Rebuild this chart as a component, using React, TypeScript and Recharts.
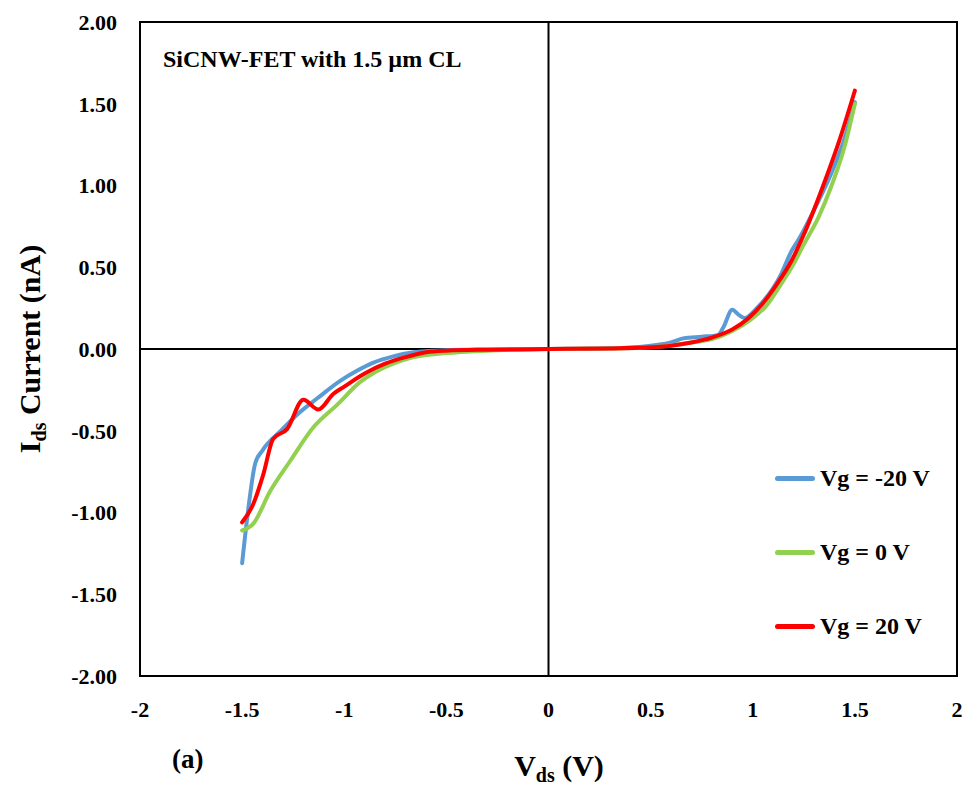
import React from "react";
import {
  LineChart,
  Line,
  XAxis,
  YAxis,
  ReferenceLine,
  ReferenceArea,
} from "recharts";

// V_ds (V) sample points and I_ds (nA) values per gate voltage
const vgNeg20V = [-1.5, -1.47, -1.436, -1.4, -1.31, -1.23, -1.13, -1.02, -0.94, -0.86, -0.76, -0.66, -0.5, -0.3, 0, 0.3, 0.5, 0.6, 0.66, 0.75, 0.83, 0.855, 0.9, 0.93, 0.96, 1.02, 1.14, 1.19, 1.22, 1.3, 1.4, 1.45, 1.5];
const vgNeg20I = [-1.31, -0.98, -0.7, -0.62, -0.5, -0.4, -0.3, -0.195, -0.135, -0.085, -0.045, -0.02, -0.008, -0.003, 0, 0.004, 0.02, 0.04, 0.065, 0.075, 0.085, 0.13, 0.24, 0.21, 0.19, 0.25, 0.46, 0.6, 0.66, 0.85, 1.12, 1.29, 1.51];

const vg0V = [-1.5, -1.446, -1.363, -1.265, -1.152, -1.034, -0.92, -0.86, -0.76, -0.66, -0.5, -0.3, 0, 0.3, 0.5, 0.7, 0.8, 0.9, 0.99, 1.07, 1.14, 1.2, 1.25, 1.32, 1.38, 1.45, 1.5];
const vg0I = [-1.11, -1.07, -0.87, -0.685, -0.48, -0.34, -0.2, -0.15, -0.09, -0.05, -0.025, -0.01, 0, 0.003, 0.01, 0.04, 0.06, 0.11, 0.18, 0.27, 0.4, 0.52, 0.64, 0.8, 0.98, 1.24, 1.5];

const vg20V = [-1.5, -1.446, -1.397, -1.348, -1.28, -1.2, -1.127, -1.054, -1.0, -0.9, -0.8, -0.7, -0.6, -0.5, -0.3, 0, 0.3, 0.5, 0.6, 0.7, 0.8, 0.9, 0.98, 1.05, 1.12, 1.19, 1.25, 1.33, 1.42, 1.5];
const vg20I = [-1.06, -0.95, -0.77, -0.55, -0.49, -0.31, -0.37, -0.275, -0.23, -0.15, -0.09, -0.05, -0.02, -0.01, -0.004, 0, 0.003, 0.01, 0.02, 0.04, 0.07, 0.12, 0.19, 0.28, 0.4, 0.54, 0.7, 0.95, 1.26, 1.58];

const xTicks = [-2, -1.5, -1, -0.5, 0, 0.5, 1, 1.5, 2];
const yTicks = [-2, -1.5, -1, -0.5, 0, 0.5, 1, 1.5, 2];

const seriesNames = ["Vg = -20 V", "Vg = 0 V", "Vg = 20 V"];
const seriesColors = ["#5B9BD5", "#92D050", "#FF0000"];

const toPts = (vs: number[], is: number[]) => vs.map((v, k) => ({ v, i: is[k] }));

const FONT = "'Liberation Serif', 'Times New Roman', serif";

export default function App() {
  const series = [toPts(vgNeg20V, vgNeg20I), toPts(vg0V, vg0I), toPts(vg20V, vg20I)];
  return (
    <div style={{ position: "absolute", left: 0, top: 0, width: 965, height: 785, background: "#fff" }}>
      <LineChart width={965} height={785} margin={{ top: 22, left: 80, right: 8, bottom: 79 }}>
        <XAxis
          type="number"
          dataKey="v"
          domain={[-2, 2]}
          ticks={xTicks}
          allowDataOverflow
          axisLine={false}
          tickLine={false}
          tickMargin={19}
          height={30}
          tick={{ fontFamily: FONT, fontWeight: "bold", fontSize: 22, fill: "#000" }}
          tickFormatter={(v: number) => String(v)}
          label={{
            content: () => (
              <text x={559} y={776} textAnchor="middle" fontFamily={FONT} fontWeight="bold" fontSize={30} fill="#000">
                V<tspan fontSize={20} dy={6}>ds</tspan>
                <tspan dy={-6}> (V)</tspan>
              </text>
            ),
          }}
        />
        <YAxis
          type="number"
          dataKey="i"
          domain={[-2, 2]}
          ticks={yTicks}
          allowDataOverflow
          axisLine={false}
          tickLine={false}
          tickMargin={17}
          width={60}
          tick={{ fontFamily: FONT, fontWeight: "bold", fontSize: 22, fill: "#000" }}
          tickFormatter={(v: number) => v.toFixed(2)}
          label={{
            content: () => (
              <text
                x={0}
                y={0}
                transform="translate(40,349) rotate(-90)"
                textAnchor="middle"
                fontFamily={FONT}
                fontWeight="bold"
                fontSize={30}
                fill="#000"
              >
                I<tspan fontSize={20} dy={6}>ds</tspan>
                <tspan dy={-6}> Current (nA)</tspan>
              </text>
            ),
          }}
        />
        <ReferenceArea x1={-2} x2={2} y1={-2} y2={2} fill="none" stroke="#000" strokeWidth={2} ifOverflow="visible" />
        <ReferenceLine x={0} stroke="#000" strokeWidth={2} />
        <ReferenceLine y={0} stroke="#000" strokeWidth={2} />
        {series.map((d, k) => (
          <Line
            key={seriesNames[k]}
            data={d}
            dataKey="i"
            name={seriesNames[k]}
            type="monotone"
            stroke={seriesColors[k]}
            strokeWidth={4}
            strokeLinecap="round"
            dot={false}
            activeDot={false}
            isAnimationActive={false}
          />
        ))}
      </LineChart>
      <div
        style={{
          position: "absolute",
          left: 775,
          top: 441,
          fontFamily: FONT,
          fontWeight: "bold",
          fontSize: 24,
          color: "#000",
        }}
      >
        {seriesNames.map((n, k) => (
          <div key={n} style={{ display: "flex", alignItems: "center", height: 74 }}>
            <div style={{ width: 40, height: 5, borderRadius: 3, background: seriesColors[k], marginRight: 5 }} />
            <span>{n}</span>
          </div>
        ))}
      </div>
      <div
        style={{
          position: "absolute",
          left: 163,
          top: 46,
          fontFamily: FONT,
          fontWeight: "bold",
          fontSize: 24,
          color: "#000",
          whiteSpace: "nowrap",
        }}
      >
        SiCNW-FET with 1.5 µm CL
      </div>
      <div
        style={{
          position: "absolute",
          left: 172,
          top: 744,
          fontFamily: FONT,
          fontWeight: "bold",
          fontSize: 27,
          color: "#000",
        }}
      >
        (a)
      </div>
    </div>
  );
}
